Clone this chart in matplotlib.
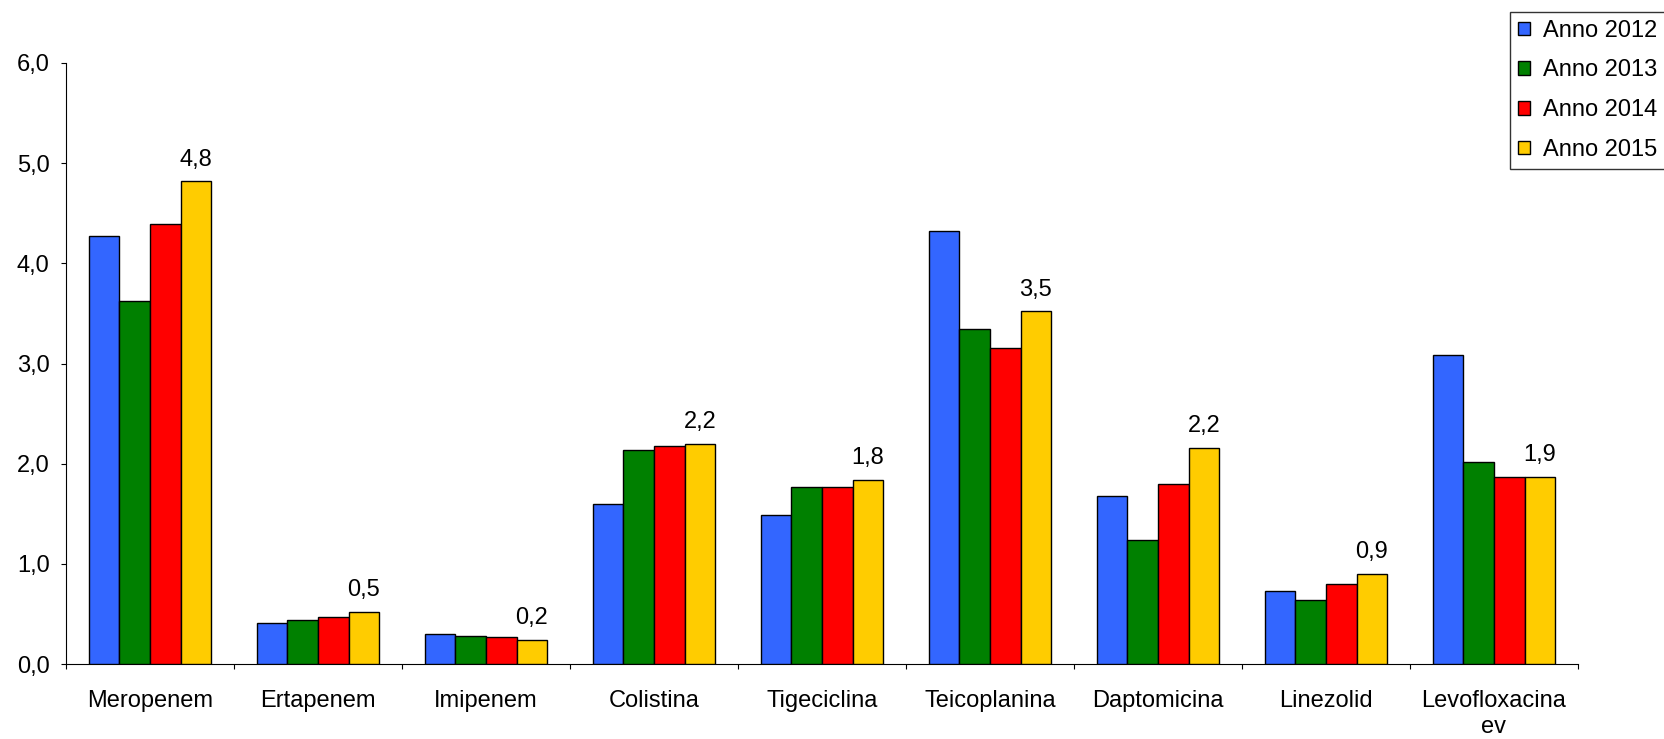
import matplotlib
matplotlib.use("Agg")
import matplotlib.pyplot as plt
import numpy as np
from matplotlib.patches import Patch

plt.rcParams['font.family'] = ['Liberation Sans', 'DejaVu Sans']

categories = ["Meropenem", "Ertapenem", "Imipenem", "Colistina", "Tigeciclina",
              "Teicoplanina", "Daptomicina", "Linezolid", "Levofloxacina\nev"]
series_names = ["Anno 2012", "Anno 2013", "Anno 2014", "Anno 2015"]
anno_2012 = [4.27, 0.41, 0.30, 1.60, 1.49, 4.32, 1.68, 0.73, 3.08]
anno_2013 = [3.62, 0.44, 0.28, 2.14, 1.77, 3.34, 1.24, 0.64, 2.02]
anno_2014 = [4.39, 0.47, 0.27, 2.18, 1.77, 3.15, 1.80, 0.80, 1.87]
anno_2015 = [4.82, 0.52, 0.24, 2.20, 1.84, 3.52, 2.16, 0.90, 1.87]
yticks = [0, 1, 2, 3, 4, 5, 6]
ytick_labels = ["0,0", "1,0", "2,0", "3,0", "4,0", "5,0", "6,0"]
colors = ["#3366FF", "#008000", "#FF0000", "#FFCC00"]

FS = 17
W, H = 1664, 739
fig = plt.figure(figsize=(W / 100, H / 100), dpi=100)
ax = fig.add_axes([66 / W, 1 - 664 / H, (1578 - 66) / W, (664 - 63) / H])

series = [anno_2012, anno_2013, anno_2014, anno_2015]
x = np.arange(len(categories))
w = 1 / 5.5
for j, (vals, c, name) in enumerate(zip(series, colors, series_names)):
    ax.bar(x + (j - 1.5) * w, vals, width=w, color=c, edgecolor="black",
           linewidth=1.0, label=name, zorder=3)

# value labels above the 2015 bars
for xi, v in zip(x, anno_2015):
    ax.annotate(f"{v:.1f}".replace(".", ","), xy=(xi + 1.5 * w, v),
                xytext=(0, 11.3), textcoords="offset points",
                ha="center", va="baseline", fontsize=FS, color="black")

ax.set_xlim(-0.5, len(categories) - 0.5)
ax.set_ylim(0, 6)
ax.set_yticks(yticks)
ax.set_yticklabels(ytick_labels)
ax.set_xticks(x)
ax.set_xticklabels(categories)
ax.set_xticks(np.arange(len(categories) + 1) - 0.5, minor=True)

ax.tick_params(axis="y", which="major", length=3.8, width=0.8, pad=8.0,
               labelsize=FS, color="black", direction="out")
ax.tick_params(axis="x", which="major", length=0, pad=18.8, labelsize=FS)
ax.tick_params(axis="x", which="minor", length=3.8, width=0.8, color="black",
               direction="out")
for t in ax.get_xticklabels():
    t.set_linespacing(1.25)

for s in ["top", "right"]:
    ax.spines[s].set_visible(False)
for s in ["left", "bottom"]:
    ax.spines[s].set_linewidth(0.8)
    ax.spines[s].set_color("black")

handles = [Patch(facecolor=c, edgecolor="black", linewidth=1.0) for c in colors]
leg = fig.legend(handles, series_names, loc="upper left",
                 bbox_to_anchor=(1510 / W, 1 - 12 / H),
                 fontsize=FS, frameon=True, fancybox=False, shadow=False,
                 borderpad=0.33, labelspacing=0.75, handlelength=0.5,
                 handleheight=0.5, handletextpad=0.55, borderaxespad=0.0)
leg.get_frame().set_edgecolor("black")
leg.get_frame().set_linewidth(1.0)

fig.savefig("out.png", dpi=100, facecolor="white")
